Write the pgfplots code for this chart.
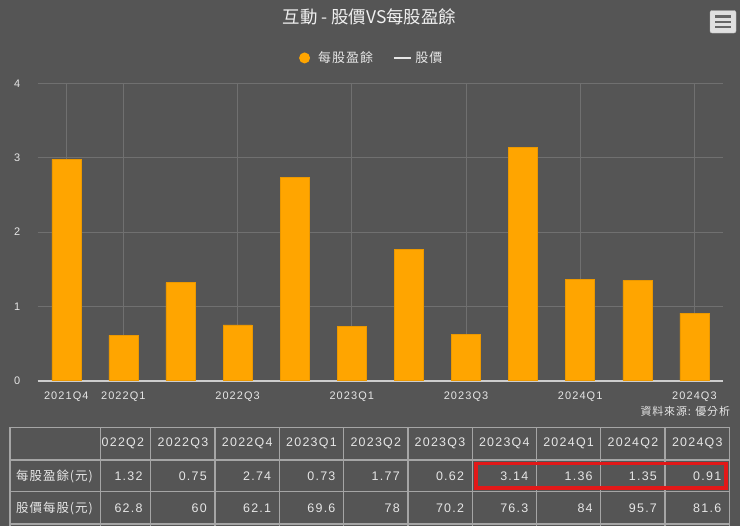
\documentclass[border=0pt]{standalone}
\usepackage{pgfplots}
\pgfplotsset{compat=1.18}
\usepackage{fontspec}
\setmainfont{Liberation Sans}
\newfontfamily\cjk{Noto Sans CJK TC}
\newfontfamily\cjkls[LetterSpace=8]{Noto Sans CJK TC}
\newfontfamily\lat[LetterSpace=10]{Liberation Sans}
\definecolor{bg}{RGB}{85,85,85}
\definecolor{gridc}{RGB}{112,112,112}
\definecolor{axisc}{RGB}{205,205,205}
\definecolor{txt}{RGB}{230,230,230}
\definecolor{barorange}{RGB}{255,165,0}
\definecolor{tabline}{RGB}{165,165,165}
\definecolor{redbox}{RGB}{226,24,24}
\begin{document}
\begin{tikzpicture}
\fill[bg] (0bp,0bp) rectangle (740bp,-526bp);
\useasboundingbox (0bp,0bp) rectangle (740bp,-526bp);
\begin{axis}[
  at={(37.7bp,-380.7bp)}, anchor=south west,
  scale only axis, width=685.3bp, height=297.2bp,
  xmin=-0.5, xmax=11.5, ymin=0, ymax=4,
  axis x line*=bottom, axis y line*=left,
  x axis line style={draw=axisc, line width=1.6bp, -},
  y axis line style={draw=none},
  major tick length=0pt,
  xtick={0,1,3,5,7,9,11},
  xticklabels={2021Q4,2022Q1,2022Q3,2023Q1,2023Q3,2024Q1,2024Q3},
  ytick={0,1,2,3,4}, yticklabels={0,1,2,3,4},
  xticklabel style={anchor=center, yshift=-16bp, text=txt, font=\lat\fontsize{11}{13}\selectfont},
  yticklabel style={anchor=center, xshift=-20.5bp, text=txt, font=\lat\fontsize{11}{13}\selectfont},
  grid=major, major grid style={draw=gridc, line width=0.8bp},
  legend style={at={(0.486,1.086)}, anchor=center, draw=none, fill=none,
    legend columns=-1, column sep=0pt,
    /tikz/every even column/.append style={column sep=20bp},
    nodes={inner sep=0bp, text=txt, font=\cjkls\fontsize{13}{15}\selectfont}},
]
\addplot[ybar, bar width=29bp, fill=barorange, draw=barorange!92!black, line width=0.5bp,
  legend image code/.code={\path[draw=none,fill=none] (-5.5bp,-5.5bp) rectangle (13.5bp,5.5bp);\fill[barorange, draw=none] (0bp,0bp) circle (5.5bp);}]
  coordinates {(0,2.98) (1,0.61) (2,1.32) (3,0.75) (4,2.74) (5,0.73) (6,1.77) (7,0.62) (8,3.14) (9,1.36) (10,1.35) (11,0.91)};
\addlegendentry{每股盈餘}
\addlegendimage{legend image code/.code={\path[draw=none,fill=none] (0bp,-5bp) rectangle (21.5bp,5bp);\draw[txt, line width=2bp] (0bp,0bp) -- (17bp,0bp);}}
\addlegendentry{股價}
\end{axis}
\begin{scope}[x=1bp,y=-1bp]
% title
\node[text=txt!60!white, font=\cjk\fontsize{17.5}{20}\selectfont] at (369.5,17) {互動 - 股價VS每股盈餘};
% menu icon
\draw[fill=white!88!black, draw=white!75!black, rounded corners=2bp] (710,10.5) rectangle (736,33);
\foreach \yy in {16.5,21.8,27.1} \draw[line width=2.4bp, draw=black!60] (715,\yy) -- (731,\yy);
% source
\node[anchor=east, text=txt, font=\cjkls\fontsize{11}{13}\selectfont] at (733.5,411.5) {資料來源: 優分析};
% table lines
\foreach \xx in {10,100.7,150.7,215,279.3,343.6,407.9,472.2,536.5,600.8,665.1,729.4}
  \draw[tabline, line width=1.3bp] (\xx,427.3) -- (\xx,528);
\foreach \yy in {427.3,460,491.7,524}
  \draw[tabline, line width=1.3bp] (10,\yy) -- (729.4,\yy);
% header
\node[anchor=west, text=txt, inner sep=0pt, font=\lat\fontsize{12.5}{14}\selectfont] at (101.5,443.7) {022Q2};
\foreach \cx/\lab in {183/2022Q3,247.2/2022Q4,311.5/2023Q1,375.8/2023Q2,440/2023Q3,504.3/2023Q4,568.6/2024Q1,633/2024Q2,697.3/2024Q3}
  \node[text=txt, inner sep=0pt, font=\lat\fontsize{12.5}{14}\selectfont] at (\cx,443.7) {\lab};
% row labels
\node[anchor=west, text=txt, inner sep=0pt, font=\cjkls\fontsize{12.5}{14}\selectfont] at (16,476) {每股盈餘(元)};
\node[anchor=west, text=txt, inner sep=0pt, font=\cjkls\fontsize{12.5}{14}\selectfont] at (16,508) {股價每股(元)};
% values
\foreach \rx/\va/\vb in {150.7/1.32/62.8,215/0.75/60,279.3/2.74/62.1,343.6/0.73/69.6,407.9/1.77/78,472.2/0.62/70.2,536.5/3.14/76.3,600.8/1.36/84,665.1/1.35/95.7,729.4/0.91/81.6}{
  \node[anchor=east, text=txt, inner sep=0pt, font=\lat\fontsize{12.5}{14}\selectfont] at (\rx-8,476) {\va};
  \node[anchor=east, text=txt, inner sep=0pt, font=\lat\fontsize{12.5}{14}\selectfont] at (\rx-8,508) {\vb};
}
% red box
\draw[redbox, line width=3.6bp] (476,463.5) rectangle (726,488);
\end{scope}
\end{tikzpicture}
\end{document}
